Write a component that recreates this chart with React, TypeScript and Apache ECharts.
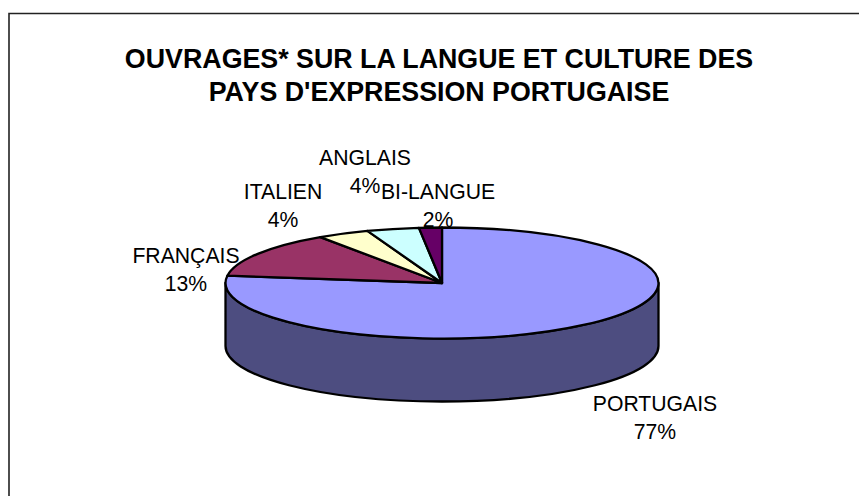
import React, { useEffect, useRef } from "react";
import * as echarts from "echarts";

const titleLines = ["OUVRAGES* SUR LA LANGUE ET CULTURE DES", "PAYS D'EXPRESSION PORTUGAISE"];
const categories = ["PORTUGAIS", "FRANÇAIS", "ITALIEN", "ANGLAIS", "BI-LANGUE"];
const values = [77.1, 13.4, 3.9, 3.9, 1.7];
const topColors = ["#9999FF", "#993366", "#FFFFCC", "#CCFFFF", "#660066"];
const sideColors = ["#4D4D80", "#4D1A33", "#808066", "#668080", "#330033"];
const labelCenters = [
  [655, 417],
  [186, 269.5],
  [283, 205],
  [365, 171.5],
  [438, 205],
];

const W = 859;
const H = 496;
const CX = 442;
const CY = 283;
const RX = 216.5;
const RY = 55.5;
const DEPTH = 63;
const FONT = "'Liberation Sans', Arial, sans-serif";

const total = values.reduce((a, b) => a + b, 0);
const pt = (t: number, dy = 0) => [CX + RX * Math.sin(t), CY - RY * Math.cos(t) + dy];
const fmt = (p: number[]) => `${p[0].toFixed(2)} ${p[1].toFixed(2)}`;

function sectorPath(a0: number, a1: number) {
  const large = a1 - a0 > Math.PI ? 1 : 0;
  return `M${CX} ${CY}L${fmt(pt(a0))}A${RX} ${RY} 0 ${large} 1 ${fmt(pt(a1))}Z`;
}

// The visible wall is the part of the slice's rim on the near half of the ellipse.
function wallPath(a0: number, a1: number) {
  const s = Math.max(a0, Math.PI / 2);
  const e = Math.min(a1, (3 * Math.PI) / 2);
  if (e <= s) return null;
  const large = e - s > Math.PI ? 1 : 0;
  return (
    `M${fmt(pt(s))}A${RX} ${RY} 0 ${large} 1 ${fmt(pt(e))}` +
    `L${fmt(pt(e, DEPTH))}A${RX} ${RY} 0 ${large} 0 ${fmt(pt(s, DEPTH))}Z`
  );
}

export default function App() {
  const ref = useRef<HTMLDivElement>(null);

  useEffect(() => {
    const chart = echarts.init(ref.current!, null, { renderer: "svg" });

    const renderItem = (params: any, api: any) => {
      const i = params.dataIndex;
      const before = values.slice(0, i).reduce((a, b) => a + b, 0);
      const a0 = (before / total) * 2 * Math.PI;
      const a1 = ((before + api.value(0)) / total) * 2 * Math.PI;
      const children: any[] = [];
      const stroke = { stroke: "#000", lineWidth: 2.3, lineJoin: "round" };
      const wall = wallPath(a0, a1);
      if (wall) {
        children.push({
          type: "path",
          shape: { pathData: wall },
          style: { fill: sideColors[i], ...stroke },
        });
      }
      children.push({
        type: "path",
        shape: { pathData: sectorPath(a0, a1) },
        style: { fill: topColors[i], ...stroke },
      });
      const pct = Math.round((api.value(0) / total) * 100);
      children.push({
        type: "text",
        z2: 10,
        style: {
          text: `${categories[i]}\n${pct}%`,
          x: labelCenters[i][0],
          y: labelCenters[i][1],
          align: "center",
          verticalAlign: "middle",
          fill: "#000",
          font: `21.2px ${FONT}`,
          lineHeight: 28,
        },
      });
      return { type: "group", children };
    };

    chart.setOption({
      animation: false,
      backgroundColor: "#fff",
      title: {
        text: titleLines.join("\n"),
        left: 434,
        top: 37,
        textAlign: "center",
        textStyle: {
          fontFamily: FONT,
          fontSize: 26.8,
          fontWeight: "bold",
          color: "#000",
          lineHeight: 33,
        },
      },
      graphic: [
        {
          type: "polyline",
          shape: { points: [[9, H], [9, 13.5], [W, 13.5]] },
          style: { stroke: "#222", lineWidth: 1.6, fill: "none" },
        },
      ],
      series: [
        {
          type: "custom",
          coordinateSystem: "none",
          renderItem,
          data: values.map((v, i) => ({ name: categories[i], value: [v] })),
          z: 2,
        },
      ],
    });

    return () => chart.dispose();
  }, []);

  return <div ref={ref} style={{ position: "fixed", left: 0, top: 0, width: W, height: H }} />;
}
